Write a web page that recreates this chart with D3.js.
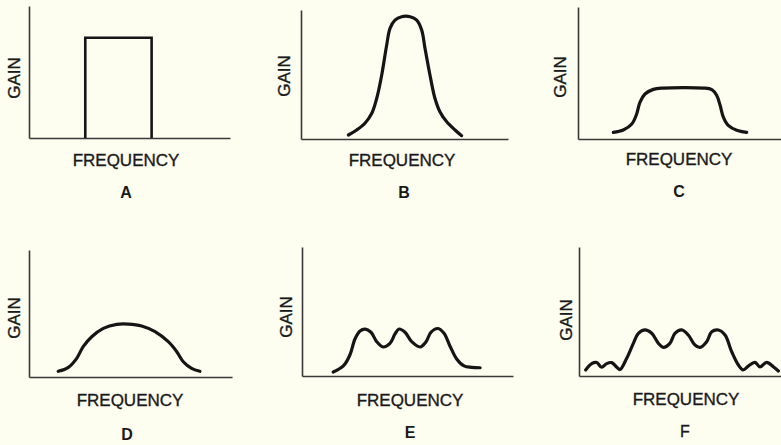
<!DOCTYPE html>
<html>
<head>
<meta charset="utf-8">
<script src="https://cdn.jsdelivr.net/npm/d3@7"></script>
<style>
  html, body { margin: 0; padding: 0; background: #fdfdf0; }
  svg { display: block; }
  text { font-family: "Liberation Sans", Arial, Helvetica, sans-serif; fill: #1a1a1a; }
</style>
</head>
<body>
<svg id="chart" width="781" height="445"></svg>
<script>
// Filter response shapes: relative frequency (0-100 along the axis) vs relative gain (0-100)
const xLabel = "FREQUENCY";
const yLabel = "GAIN";
const panelNames = ["A", "B", "C", "D", "E", "F"];

// A: ideal rectangular passband
const freqA = [28, 28, 61, 61];
const gainA = [0, 76, 76, 0];

// B: sharp single-peaked response
const freqB = [22.9, 26.9, 30.9, 34.2, 36.6, 39.0, 41.4, 43.0, 45.4, 48.6, 52.7, 55.9, 58.3, 59.9, 62.3, 64.7, 67.1, 70.4, 74.4, 77.6];
const gainB = [3.1, 7.0, 12.2, 19.9, 31.6, 49.6, 72.9, 85.8, 92.2, 94.8, 94.8, 92.2, 84.5, 70.3, 49.6, 31.6, 21.2, 13.4, 7.0, 2.6];

// C: flat-topped passband
const freqC = [17.4, 22.3, 26.5, 28.9, 30.5, 33.0, 37.1, 42.0, 61.7, 65.9, 68.3, 70.0, 71.6, 74.0, 78.2, 83.1];
const gainC = [5.0, 6.8, 11.3, 18.9, 27.8, 34.1, 37.6, 38.6, 38.6, 37.4, 33.1, 25.5, 16.6, 10.3, 6.6, 5.0];

// D: broad rounded response
const freqD = [14.4, 19.4, 23.5, 26.7, 30.9, 36.6, 43.2, 48.9, 55.5, 62.1, 68.6, 72.8, 76.0, 80.1, 84.2];
const gainD = [4.5, 7.6, 14.7, 23.9, 31.7, 38.3, 41.5, 41.7, 40.2, 35.7, 27.8, 19.9, 12.0, 6.8, 4.5];

// E: passband with three ripples
const freqE = [14.8, 19.6, 22.7, 25.1, 27.5, 29.9, 32.7, 35.4, 38.4, 41.7, 44.1, 46.0, 48.8, 52.0, 55.9, 58.8, 61.1, 64.5, 67.3, 70.1, 73.3, 76.8, 80.4, 84.4];
const gainE = [3.1, 7.8, 16.3, 28.7, 34.9, 36.4, 33.9, 26.6, 22.5, 25.3, 32.6, 36.4, 33.9, 26.6, 22.5, 26.6, 33.9, 36.8, 33.1, 23.3, 13.2, 7.8, 6.7, 6.4];

// F: rippled passband with stopband side lobes
const freqF = [3.3, 6.3, 8.8, 11.2, 13.7, 16.2, 18.7, 20.3, 23.6, 26.9, 29.4, 32.7, 36.0, 39.3, 41.7, 45.0, 47.5, 50.8, 54.1, 57.4, 59.9, 63.2, 65.7, 69.0, 72.3, 75.6, 78.9, 81.3, 83.8, 87.1, 89.6, 92.9, 96.2, 98.7];
const gainF = [4.7, 9.6, 10.4, 6.8, 9.6, 10.4, 6.8, 5.0, 13.7, 25.3, 33.1, 35.7, 33.1, 25.3, 22.2, 25.3, 33.1, 35.7, 31.8, 24.0, 22.2, 26.6, 34.3, 35.7, 31.8, 18.8, 8.5, 4.7, 7.6, 10.6, 7.0, 10.6, 7.2, 3.9];

const series = [
  { f: freqA, g: gainA, sharp: true },
  { f: freqB, g: gainB },
  { f: freqC, g: gainC },
  { f: freqD, g: gainD },
  { f: freqE, g: gainE },
  { f: freqF, g: gainF }
];

// Panel geometry: axis origin, axis lengths and label positions
const layout = [
  { ox: 29,  oy: 138, w: 201, h: 132, gx: 14,  gy: 78,  fx: 126, fy: 166, lx: 126, ly: 198, bold: true },
  { ox: 301, oy: 139, w: 207, h: 129, gx: 284, gy: 76,  fx: 402, fy: 166, lx: 404, ly: 198, bold: true },
  { ox: 578, oy: 139, w: 203, h: 132, gx: 560, gy: 77,  fx: 679, fy: 165, lx: 679, ly: 197, bold: true },
  { ox: 29,  oy: 377, w: 203, h: 127, gx: 14,  gy: 318, fx: 130, fy: 406, lx: 127, ly: 440, bold: true },
  { ox: 302, oy: 376, w: 211, h: 129, gx: 286, gy: 317, fx: 410, fy: 406, lx: 410, ly: 438, bold: true },
  { ox: 579, oy: 376, w: 202, h: 129, gx: 566, gy: 320, fx: 686, fy: 405, lx: 685, ly: 437, bold: false }
];

const svg = d3.select("#chart");

layout.forEach((p, i) => {
  const x = d3.scaleLinear().domain([0, 100]).range([p.ox, p.ox + p.w]);
  const y = d3.scaleLinear().domain([0, 100]).range([p.oy, p.oy - p.h]);
  const g = svg.append("g").attr("class", "panel");

  // Bare axes: only the domain lines, no ticks
  const xAxis = g.append("g").attr("transform", `translate(0,${p.oy})`)
    .call(d3.axisBottom(x).ticks(0).tickSize(0).tickSizeOuter(0));
  const yAxis = g.append("g").attr("transform", `translate(${p.ox},0)`)
    .call(d3.axisLeft(y).ticks(0).tickSize(0).tickSizeOuter(0));
  [xAxis, yAxis].forEach(a => a.select(".domain")
    .attr("stroke", "#3a3a3a").attr("stroke-width", 1.6));

  const s = series[i];
  const pts = s.f.map((fv, k) => [fv, s.g[k]]);
  const line = d3.line()
    .x(d => x(d[0]))
    .y(d => y(d[1]))
    .curve(s.sharp ? d3.curveLinear : d3.curveCatmullRom.alpha(0.5));

  g.append("path")
    .attr("d", line(pts))
    .attr("fill", "none")
    .attr("stroke", "#151515")
    .attr("stroke-width", s.sharp ? 2.6 : 3.2)
    .attr("stroke-linejoin", s.sharp ? "miter" : "round")
    .attr("stroke-linecap", s.sharp ? "butt" : "round");

  g.append("text")
    .attr("transform", `translate(${p.gx},${p.gy}) rotate(-90)`)
    .attr("text-anchor", "middle")
    .attr("dominant-baseline", "central")
    .attr("font-size", 17)
    .attr("stroke", "#1a1a1a").attr("stroke-width", 0.35)
    .text(yLabel);

  g.append("text")
    .attr("x", p.fx).attr("y", p.fy)
    .attr("text-anchor", "middle")
    .attr("font-size", 17)
    .attr("stroke", "#1a1a1a").attr("stroke-width", 0.35)
    .text(xLabel);

  g.append("text")
    .attr("x", p.lx).attr("y", p.ly)
    .attr("text-anchor", "middle")
    .attr("font-size", 16)
    .attr("font-weight", p.bold ? "bold" : "normal")
    .attr("stroke", p.bold ? "none" : "#1a1a1a").attr("stroke-width", 0.3)
    .text(panelNames[i]);
});
</script>
</body>
</html>
